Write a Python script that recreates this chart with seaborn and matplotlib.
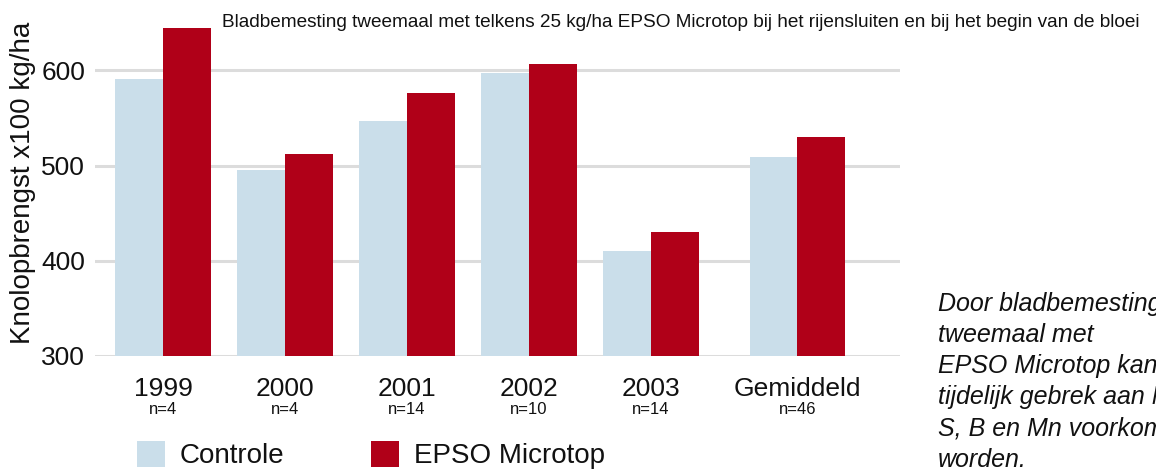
import pandas as pd
import seaborn as sns
import matplotlib.pyplot as plt
from matplotlib.patches import Patch
from matplotlib.transforms import blended_transform_factory

# data
groups = ['1999', '2000', '2001', '2002', '2003', 'Gemiddeld']
counts = ['n=4', 'n=4', 'n=14', 'n=10', 'n=14', 'n=46']
controle = [591, 495, 547, 597, 410, 509]
epso = [644, 512, 576, 607, 430, 530]
series_names = ['Controle', 'EPSO Microtop']

# group slots on the x axis (the average group sits a bit apart)
slots = [0, 1, 2, 3, 4, 5.2]

colors = {'Controle': '#cadeea', 'EPSO Microtop': '#b00018'}

df = pd.DataFrame({
    'slot': slots * 2,
    'value': controle + epso,
    'series': [series_names[0]] * len(groups) + [series_names[1]] * len(groups),
})

sns.set_style('white')
plt.rcParams['font.family'] = ['Liberation Sans', 'DejaVu Sans']
plt.rcParams['text.color'] = '#111111'
plt.rcParams['axes.labelcolor'] = '#111111'
plt.rcParams['xtick.color'] = '#111111'
plt.rcParams['ytick.color'] = '#111111'

fig = plt.figure(figsize=(11.56, 4.73), dpi=100)
ax = fig.add_axes([0.0822, 0.2474, 0.6963, 0.7046])

sns.barplot(data=df, x='slot', y='value', hue='series', native_scale=True,
            palette=colors, saturation=1, width=0.78, linewidth=0,
            legend=False, ax=ax)

ax.set_ylim(300, 650)
ax.set_xlim(-0.557, 6.04)
ax.set_yticks([300, 400, 500, 600])
ax.yaxis.grid(True, color='#dcdcdc', linewidth=2.2)
ax.set_axisbelow(True)
for s in ax.spines.values():
    s.set_visible(False)
ax.tick_params(axis='y', length=0, pad=7, labelsize=19)
ax.tick_params(axis='x', length=0, pad=15, labelsize=19)
ax.set_xticks(slots, groups)
ax.set_xlabel('')
ax.set_ylabel('Knolopbrengst x100 kg/ha', fontsize=20)
ax.yaxis.set_label_coords(-0.073, 0.52)

trans = blended_transform_factory(ax.transData, ax.transAxes)
for x, n in zip(slots, counts):
    ax.text(x, -0.16, n, transform=trans, ha='center', va='center', fontsize=12)

fig.text(0.192, 0.953, 'Bladbemesting tweemaal met telkens 25 kg/ha EPSO Microtop '
         'bij het rijensluiten en bij het begin van de bloei',
         ha='left', va='center', fontsize=13.7)

fig.text(0.811, 0.193, 'Door bladbemesting\ntweemaal met\nEPSO Microtop kan een\n'
         'tijdelijk gebrek aan Mg,\nS, B en Mn voorkomen\nworden.',
         ha='left', va='center', fontsize=18, style='italic', linespacing=1.38)

handles = [Patch(facecolor=colors[n], edgecolor='none') for n in series_names]
fig.legend(handles, series_names, loc='center left',
           bbox_to_anchor=(137 / 1156, 1 - 455 / 473), ncol=2, frameon=False,
           fontsize=20, handlelength=1.0, handleheight=1.1, handletextpad=0.55,
           columnspacing=3.1, borderpad=0, borderaxespad=0)

fig.savefig('out.png', dpi=100)
